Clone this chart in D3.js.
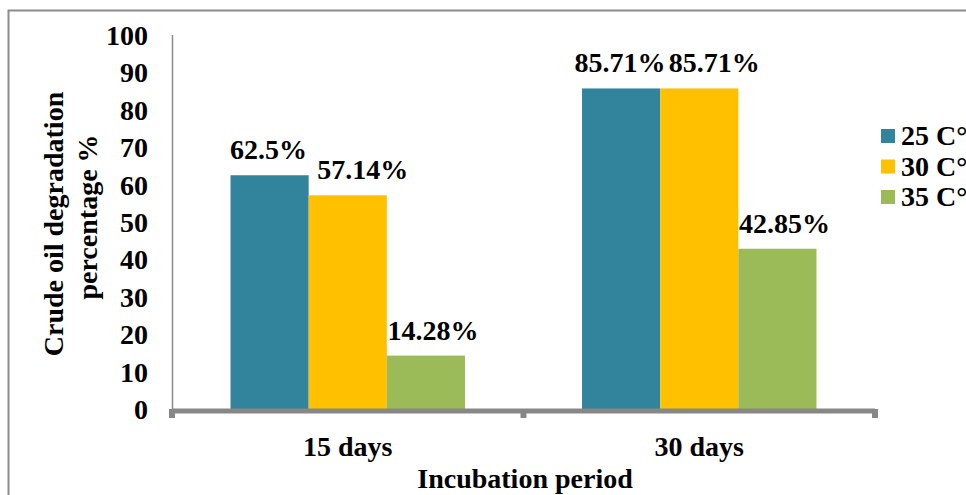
<!DOCTYPE html>
<html>
<head>
<meta charset="utf-8">
<script src="https://cdn.jsdelivr.net/npm/d3@7"></script>
<style>
  html, body { margin: 0; padding: 0; background: #fff; }
  svg { display: block; }
  svg text { font-family: "Liberation Serif", "Times New Roman", serif; font-weight: bold; fill: #000; }
</style>
</head>
<body>
<svg id="chart" width="966" height="495"></svg>
<script>
// Incubation periods and temperature series (degradation %)
const categories = ["15 days", "30 days"];
const seriesNames = ["25 C°", "30 C°", "35 C°"];
const values25 = [62.5, 85.71];
const values30 = [57.14, 85.71];
const values35 = [14.28, 42.85];
const labels25 = ["62.5%", "85.71%"];
const labels30 = ["57.14%", "85.71%"];
const labels35 = ["14.28%", "42.85%"];
const yTicks = [0, 10, 20, 30, 40, 50, 60, 70, 80, 90, 100];

const colors = ["#31849B", "#FFC000", "#9BBB59"];
const seriesValues = [values25, values30, values35];
const seriesLabels = [labels25, labels30, labels35];
const labelShift = [-1, 15, 7];
const fontSize = 28;

const svg = d3.select("#chart");

// outer frame
svg.append("rect")
  .attr("x", 8.5).attr("y", 10.5)
  .attr("width", 970).attr("height", 500)
  .attr("fill", "none").attr("stroke", "#8c8c8c").attr("stroke-width", 2);

const plot = { left: 172, right: 875, top: 35, bottom: 409 };

const x0 = d3.scaleBand().domain(categories).range([plot.left, plot.right]).paddingInner(0.333).paddingOuter(0.1665);
const x1 = d3.scaleBand().domain(d3.range(seriesNames.length)).range([0, x0.bandwidth()]);
const y = d3.scaleLinear().domain([0, 100]).range([plot.bottom, plot.top]);

// y axis line
svg.append("line")
  .attr("x1", plot.left + 0.5).attr("x2", plot.left + 0.5)
  .attr("y1", plot.top).attr("y2", plot.bottom)
  .attr("stroke", "#8c8c8c").attr("stroke-width", 1.5);

// y tick labels
const yAxis = d3.axisLeft(y).tickValues(yTicks).tickSize(0).tickPadding(0);
const gy = svg.append("g").attr("transform", `translate(148,0)`).call(yAxis);
gy.select(".domain").remove();
gy.attr("font-family", null).attr("font-size", null);
gy.selectAll("text")
  .attr("font-size", fontSize)
  .attr("dy", "0.34em");

// bars
const groups = svg.append("g").selectAll("g")
  .data(categories).join("g")
  .attr("transform", d => `translate(${x0(d)},0)`);

seriesValues.forEach((vals, s) => {
  groups.append("rect")
    .attr("x", x1(s))
    .attr("y", (d, i) => y(vals[i]))
    .attr("width", x1.bandwidth())
    .attr("height", (d, i) => y(0) - y(vals[i]))
    .attr("fill", colors[s]);
});

// value labels
seriesValues.forEach((vals, s) => {
  groups.append("text")
    .attr("x", x1(s) + x1.bandwidth() / 2 + labelShift[s])
    .attr("y", (d, i) => y(vals[i]) - 16)
    .attr("text-anchor", "middle")
    .attr("font-size", fontSize)
    .text((d, i) => seriesLabels[s][i]);
});

// x axis (thick baseline with end/middle ticks)
const axisColor = "#878787";
svg.append("line")
  .attr("x1", plot.left).attr("x2", plot.right)
  .attr("y1", plot.bottom + 2).attr("y2", plot.bottom + 2)
  .attr("stroke", axisColor).attr("stroke-width", 5);
const tickXs = [plot.left, (plot.left + plot.right) / 2, plot.right];
svg.append("g").selectAll("line")
  .data(tickXs).join("line")
  .attr("x1", d => d).attr("x2", d => d)
  .attr("y1", plot.bottom).attr("y2", plot.bottom + 9)
  .attr("stroke", axisColor).attr("stroke-width", 6);

// category labels
svg.append("g").selectAll("text")
  .data(categories).join("text")
  .attr("x", d => x0(d) + x0.bandwidth() / 2)
  .attr("y", 456)
  .attr("text-anchor", "middle")
  .attr("font-size", fontSize)
  .text(d => d);

// axis titles
svg.append("text")
  .attr("x", 525).attr("y", 488)
  .attr("text-anchor", "middle").attr("font-size", fontSize)
  .text("Incubation period");

svg.append("text")
  .attr("transform", "translate(63,224) rotate(-90)")
  .attr("text-anchor", "middle").attr("font-size", fontSize)
  .text("Crude oil degradation");
svg.append("text")
  .attr("transform", "translate(97,217) rotate(-90)")
  .attr("text-anchor", "middle").attr("font-size", fontSize)
  .text("percentage %");

// legend
const legend = svg.append("g").selectAll("g")
  .data(seriesNames).join("g")
  .attr("transform", (d, i) => `translate(881,${129 + i * 30.5})`);
legend.append("rect").attr("width", 14).attr("height", 14).attr("fill", (d, i) => colors[i]);
legend.append("text").attr("x", 20).attr("y", 16).attr("font-size", fontSize).text(d => d);
</script>
</body>
</html>
